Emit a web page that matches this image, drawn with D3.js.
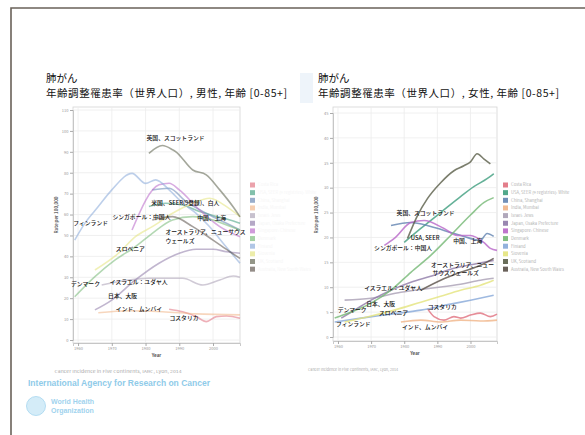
<!DOCTYPE html>
<html><head><meta charset="utf-8">
<script src="https://cdn.jsdelivr.net/npm/d3@7"></script>
<style>body{margin:0;background:#fff}svg{display:block}</style>
</head><body>
<svg id="c" width="585" height="435"></svg>
<script>
// ---------- data ----------
const legendNames = ["Costa Rica","USA, SEER (9 registries): White","China, Shanghai","India, Mumbai","Israel: Jews","Japan, Osaka Prefecture","Singapore: Chinese","Denmark","Finland","Slovenia","UK, Scotland","Australia, New South Wales"];
const xTicks = [1960,1970,1980,1990,2000];
const maleYTicks = [0,10,20,30,40,50,60,70,80,90,100,110];
const femaleYTicks = [0,5,10,15,20,25,30,35,40,45];

// male (rate per 100,000)
const mCostaRica = [[1987,14.7],[1991,13.5],[1995,11.2],[1998,8.8],[2001,11.2],[2004,11.5],[2008,10.4]];
const mUSA = [[1981,63.8],[1986,65.4],[1991,64.6],[1996,61.4],[2001,59],[2005,57.4],[2008,55.8]];
const mShanghai = [[1982,71.8],[1987,72.6],[1992,66.2],[1998,60.6],[2004,55.8],[2008,52.6]];
const mMumbai = [[1966,13],[1975,14],[1985,13.5],[1995,12.5],[2008,12]];
const mIsrael = [[1967,26.3],[1975,28.7],[1981,29.5],[1986,29.5],[1991,29.5],[1997,26.3],[2002,28.7],[2006,30.6],[2008,30]];
const mOsaka = [[1965,14.4],[1970,19.1],[1977,28.7],[1984,36.7],[1990,41.5],[1995,43.4],[2000,43.4],[2004,42.2],[2008,41.5]];
const mSingapore = [[1976,52.6],[1984,74.2],[1987,75],[1990,71.8],[1996,62.2],[2002,54.2],[2008,49.4]];
const mDenmark = [[1959,20.7],[1965,30.3],[1971,38.3],[1977,44.6],[1982,51],[1988,57.4],[1994,59],[2000,57.4],[2004,55],[2008,52.6]];
const mFinland = [[1959,47.8],[1962,55.8],[1966,63.8],[1970,71.8],[1976,79.7],[1980,74.9],[1983,76.6],[1987,71.8],[1991,65.4],[1995,60.6],[1999,54.2],[2003,46.3],[2008,36.7]];
const mSlovenia = [[1965,33.5],[1972,41.5],[1977,49.4],[1982,54.2],[1988,60.6],[1994,65.4],[1999,67.8],[2004,63.8],[2008,59]];
const mScotland = [[1981,89.3],[1985,93],[1988,91],[1989,90],[1994,81.3],[1998,79],[2002,71.8],[2006,63.6],[2008,58.9]];
const mAustralia = [[1982,57.4],[1988,59],[1994,54.2],[2000,47.8],[2005,42.2],[2008,39]];

// female (rate per 100,000)
const fCostaRica = [[1987,5.7],[1989,4.1],[1992,3.4],[1995,4.1],[1997,3.8],[2000,4.4],[2003,4.8],[2006,4.1],[2008,4.6]];
const fUSA = [[1980,19],[1985,21.8],[1991,25],[1997,28.2],[2001,30.2],[2005,31.8],[2007,32.8]];
const fShanghai = [[1976,22.4],[1982,23],[1988,22.2],[1994,21],[1998,20.2],[2003,19.4],[2005,20.8],[2007,20.2]];
const fMumbai = [[1979,3],[1985,3.4],[1991,3],[1997,3.4],[2003,3.2],[2008,3.4]];
const fIsrael = [[1962,7.4],[1970,7.8],[1979,9],[1988,9.8],[1997,10.6],[2003,11.4],[2007,11.8]];
const fOsaka = [[1961,3.8],[1965,5.4],[1970,7.4],[1976,9.4],[1982,11],[1988,12.2],[1995,13.8],[2001,14.6],[2007,15.4]];
const fSingapore = [[1974,18.4],[1977,19.8],[1982,23],[1986,23.4],[1992,21.8],[1996,20.4],[2000,20.4],[2004,19],[2006,17.8],[2008,17.4]];
const fDenmark = [[1959,3.8],[1964,5],[1970,6.8],[1976,9.4],[1982,13],[1988,16.4],[1994,20.4],[2000,24.5],[2004,27],[2007,28]];
const fFinland = [[1959,3],[1967,3.8],[1976,4.6],[1985,5.4],[1994,6.6],[2000,7.4],[2007,8.4]];
const fSlovenia = [[1962,3],[1970,4.2],[1977,5.4],[1985,7],[1991,8.2],[1997,9.4],[2003,10.4],[2007,11.4]];
const fScotland = [[1981,19.8],[1984,24.4],[1987,27.8],[1991,31],[1995,33.4],[1998,34.4],[2000,35.2],[2002,36.8],[2004,35.8],[2006,34.8]];
const fAustralia = [[1985,9.4],[1991,11.4],[1997,13],[2003,14.4],[2007,15.8]];

// on-chart labels: [text, year, value]
const maleLabels = [["英国、スコットランド",1980.3,96.6],["米国、SEER(9登録)、白人",1981.7,65.4],["シンガポール：中国人",1970.2,59],["中国、上海",1995.3,58.5],["フィンランド",1958.6,55.8],["オーストラリア、ニューサウス",1985.9,51.5],["ウェールズ",1985.9,47.5],["スロベニア",1971.2,43.5],["デンマーク",1957.9,26.6],["イスラエル：ユダヤ人",1969.4,27.9],["日本、大阪",1968.9,21.2],["インド、ムンバイ",1971.2,14.7],["コスタリカ",1987.1,10.4]];
const femaleLabels = [["英国、スコットランド",1977.7,25],["USA, SEER",1982,19.9],["中国、上海",1994.8,19.3],["シンガポール：中国人",1970.9,17.9],["オーストラリア、ニュー",1988.1,14.4],["サウスウェールズ",1988.5,12.8],["イスラエル：ユダヤ人",1967.9,9.8],["日本、大阪",1968.5,6.6],["デンマーク",1959.9,5.4],["スロベニア",1972.4,4.9],["コスタリカ",1987.1,6.1],["フィンランド",1959.4,2.6],["インド、ムンバイ",1979.3,2.1]];

const maleSeries = [mCostaRica,mUSA,mShanghai,mMumbai,mIsrael,mOsaka,mSingapore,mDenmark,mFinland,mSlovenia,mScotland,mAustralia];
const femaleSeries = [fCostaRica,fUSA,fShanghai,fMumbai,fIsrael,fOsaka,fSingapore,fDenmark,fFinland,fSlovenia,fScotland,fAustralia];
const colors = ["#e0707e","#3f9e7e","#6283b0","#f0b487","#a99fb4","#8e7aa8","#b866c8","#74b874","#86a8d8","#e4e47c","#5a5e48","#5a5048"];

// ---------- drawing ----------
const svg = d3.select("#c");
const FONT = "'Noto Sans CJK JP','Noto Sans',sans-serif";

// slide frame
svg.append("path").attr("d","M11,435 V8 H585").attr("fill","none").attr("stroke","#6a6259").attr("stroke-width",1.6);
svg.append("rect").attr("x",300).attr("y",73).attr("width",13).attr("height",30).attr("fill","#eef4fa");

function panel(cfg){
  const g = svg.append("g");
  const x = d3.scaleLinear().domain([1958.5,2008]).range([cfg.x0,cfg.x1]);
  const y = d3.scaleLinear().domain([0,cfg.yMax]).range([cfg.yb,cfg.yt]);
  // titles
  g.append("text").attr("x",cfg.tx).attr("y",82).text("肺がん")
    .attr("font-family",FONT).attr("font-size",10.5).attr("fill","#111");
  g.append("text").attr("x",cfg.tx).attr("y",97).text(cfg.title)
    .attr("font-family",FONT).attr("font-size",10.5).attr("fill","#111")
    .attr("textLength",241).attr("lengthAdjust","spacing");
  // plot bg
  g.append("rect").attr("x",cfg.x0).attr("y",107).attr("width",cfg.x1-cfg.x0).attr("height",cfg.pb-107)
    .attr("fill","#fff").attr("stroke","#d4d4d4").attr("stroke-width",0.8);
  // grid
  g.selectAll(".gy").data(cfg.yTicks).join("line")
    .attr("x1",cfg.x0).attr("x2",cfg.x1).attr("y1",d=>y(d)).attr("y2",d=>y(d))
    .attr("stroke","#ececec").attr("stroke-width",0.8);
  g.selectAll(".gx").data(xTicks).join("line")
    .attr("y1",107).attr("y2",cfg.pb).attr("x1",d=>x(d)).attr("x2",d=>x(d))
    .attr("stroke","#ececec").attr("stroke-width",0.8);
  // axes
  const ya = d3.axisLeft(y).tickValues(cfg.yTicks).tickSize(3).tickPadding(1.5);
  const yg = g.append("g").attr("transform",`translate(${cfg.x0},0)`).call(ya);
  const xa = d3.axisBottom(x).tickValues(xTicks).tickFormat(d3.format("d")).tickSize(3).tickPadding(1.5);
  const xg = g.append("g").attr("transform",`translate(0,${cfg.pb})`).call(xa);
  [yg,xg].forEach(a=>{
    a.select(".domain").attr("stroke","#bbb").attr("stroke-width",0.8);
    a.selectAll(".tick line").attr("stroke","#aaa");
    a.selectAll(".tick text").attr("font-size",4).attr("fill","#999").attr("font-family",FONT);
  });
  g.append("text").attr("transform",`translate(${cfg.x0-15},215) rotate(-90)`).attr("text-anchor","middle")
    .text("Rate per 100,000").attr("font-family",FONT).attr("font-size",4.5).attr("fill","#666").attr("font-weight","bold");
  g.append("text").attr("x",(cfg.x0+cfg.x1)/2).attr("y",cfg.pb+14).attr("text-anchor","middle")
    .text("Year").attr("font-family",FONT).attr("font-size",4.5).attr("fill","#555").attr("font-weight","bold");
  // lines
  const line = d3.line().x(d=>x(d[0])).y(d=>y(d[1])).curve(d3.curveMonotoneX);
  g.selectAll(".ln").data(cfg.series).join("path")
    .attr("d",line).attr("fill","none").attr("stroke",(d,i)=>colors[i])
    .attr("stroke-width",1.6).attr("stroke-opacity",cfg.op).attr("stroke-linejoin","round");
  // labels
  g.selectAll(".lb").data(cfg.labels).join("text")
    .attr("x",d=>x(d[1])).attr("y",d=>y(d[2])).attr("dy","0.35em")
    .text(d=>d[0]).attr("font-family",FONT).attr("font-size",5.8).attr("fill","#111").attr("font-weight",500);
  // legend
  const lg = g.append("g");
  legendNames.forEach((n,i)=>{
    const yy = 185 + i*7.65;
    lg.append("rect").attr("x",cfg.lx).attr("y",yy-2.5).attr("width",5).attr("height",5).attr("fill",colors[i]).attr("fill-opacity",cfg.op+0.1);
    lg.append("text").attr("x",cfg.lx+8).attr("y",yy).attr("dy","0.35em").text(n)
      .attr("font-family",FONT).attr("font-size",4.2).attr("fill",cfg.legendText);
  });
  // source
  g.append("text").attr("x",cfg.srcx).attr("y",cfg.srcy).attr("text-anchor","middle")
    .text("Cancer Incidence in Five Continents, IARC, Lyon, 2014")
    .attr("font-family",FONT).attr("font-size",3.8).attr("fill","#aaa")
    .attr("textLength",cfg.srcw).attr("lengthAdjust","spacingAndGlyphs");
}

panel({x0:73,x1:240,yb:340,yt:110,pb:343,yMax:110,yTicks:maleYTicks,tx:46,
  title:"年齢調整罹患率（世界人口）, 男性, 年齢 [0-85+]",series:maleSeries,labels:maleLabels,
  op:0.55,lx:250,legendText:"#f6f6f6",srcx:118,srcy:373,srcw:127});
panel({x0:333,x1:497,yb:337,yt:113,pb:341,yMax:45,yTicks:femaleYTicks,tx:318,
  title:"年齢調整罹患率（世界人口）, 女性, 年齢 [0-85+]",series:femaleSeries,labels:femaleLabels,
  op:0.8,lx:503,legendText:"#b4b4b4",srcx:353,srcy:371,srcw:90});

// IARC / WHO branding
svg.append("text").attr("x",28).attr("y",386).text("International Agency for Research on Cancer")
  .attr("font-family","'Liberation Sans',sans-serif").attr("font-size",8.5).attr("font-weight","bold").attr("fill","#8fcbe9")
  .attr("textLength",182).attr("lengthAdjust","spacingAndGlyphs");
svg.append("circle").attr("cx",36).attr("cy",406).attr("r",9.5).attr("fill","#d4ecf8").attr("stroke","#a6d6ef").attr("stroke-width",0.8);
svg.append("text").attr("x",51).attr("y",404).text("World Health")
  .attr("font-family","'Liberation Sans',sans-serif").attr("font-size",7).attr("font-weight","bold").attr("fill","#9fd3ee");
svg.append("text").attr("x",51).attr("y",413).text("Organization")
  .attr("font-family","'Liberation Sans',sans-serif").attr("font-size",7).attr("font-weight","bold").attr("fill","#9fd3ee");
</script>
</body></html>
